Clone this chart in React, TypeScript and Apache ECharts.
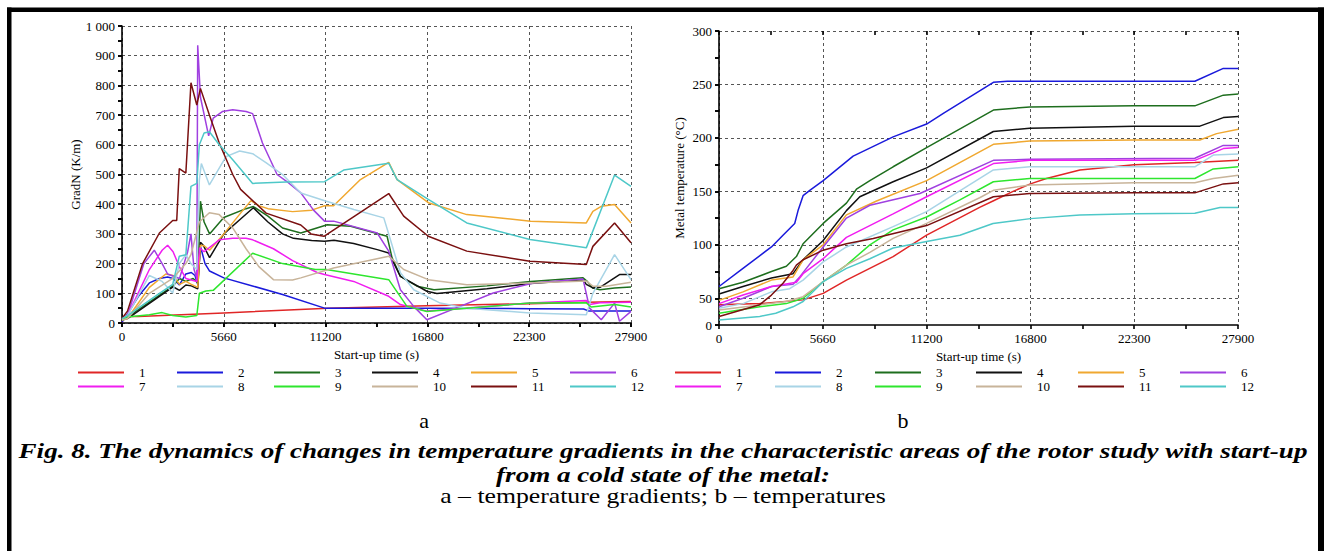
import React, { useEffect, useRef } from 'react';
import * as echarts from 'echarts';

const FONT = 'Liberation Serif';

const seriesNames = ['1', '2', '3', '4', '5', '6', '7', '8', '9', '10', '11', '12'];
const seriesColors = ['#e02626', '#1a1adb', '#1e6e1e', '#111111', '#f0a830', '#a040e0', '#f01ef0', '#a8d4e6', '#2ee62e', '#c8b49a', '#7a1010', '#4ec8c8'];

const timeTickLabels = ['0', '5660', '11200', '16800', '22300', '27900'];

// a – temperature gradients, K/m  [time s, value]
const grad1: [number, number][] = [[0, 3], [150, 22], [900, 22], [5580, 34], [11300, 50], [16700, 58], [22400, 65], [25450, 70], [27900, 72]];
const grad2: [number, number][] = [[0, 3], [300, 30], [900, 90], [1500, 135], [2050, 150], [2500, 155], [2800, 150], [3150, 128], [3500, 165], [3800, 170], [4000, 160], [4150, 130], [4300, 258], [4550, 200], [4800, 175], [5580, 152], [7200, 124], [8800, 96], [11100, 50], [16800, 50], [22400, 48], [25300, 47], [25600, 40], [27900, 40]];
const grad3: [number, number][] = [[0, 15], [300, 20], [2800, 125], [3150, 150], [3500, 140], [3900, 150], [4150, 135], [4300, 410], [4500, 340], [4800, 300], [5580, 355], [6800, 385], [7200, 392], [8000, 360], [8800, 320], [9800, 303], [11250, 331], [12530, 326], [14530, 292], [14800, 220], [15260, 157], [16170, 124], [17100, 112], [20000, 125], [22400, 140], [25270, 152], [25500, 140], [25800, 118], [26200, 112], [27000, 118], [27900, 121]];
const grad4: [number, number][] = [[0, 10], [300, 15], [2800, 122], [3150, 110], [3500, 128], [3800, 125], [4150, 115], [4300, 272], [4450, 262], [4800, 220], [5580, 300], [6500, 350], [7200, 388], [8000, 340], [8800, 300], [9400, 285], [10400, 278], [11100, 275], [11620, 279], [12700, 268], [13990, 247], [14620, 236], [15260, 157], [16710, 107], [17260, 99], [20000, 115], [22400, 133], [25270, 146], [25450, 130], [25810, 118], [26200, 120], [27270, 163], [27900, 163]];
const grad5: [number, number][] = [[0, 10], [300, 15], [1500, 120], [2400, 165], [2800, 160], [3150, 130], [3500, 140], [3800, 130], [4150, 120], [4300, 262], [4500, 260], [4800, 245], [5580, 300], [6500, 370], [7070, 412], [7500, 395], [8000, 385], [9350, 375], [10400, 380], [11100, 395], [11600, 395], [13070, 483], [14620, 541], [15080, 483], [16790, 405], [18900, 365], [22400, 343], [25450, 337], [25810, 376], [26270, 393], [27000, 399], [27900, 337]];
const grad6: [number, number][] = [[0, 15], [300, 25], [1200, 200], [1770, 245], [2200, 200], [2500, 165], [3150, 150], [3600, 240], [3780, 300], [3950, 180], [4100, 150], [4150, 935], [4300, 760], [4750, 630], [5000, 690], [5500, 712], [6070, 718], [6800, 712], [7160, 705], [7700, 606], [8500, 500], [9000, 478], [9800, 438], [10500, 380], [11100, 343], [11600, 343], [13990, 303], [14620, 242], [15260, 112], [15990, 56], [16710, 11], [18530, 56], [20350, 101], [22540, 135], [25270, 148], [25630, 50], [26270, 11], [27000, 67], [27270, 6], [27900, 39]];
const grad7: [number, number][] = [[0, 15], [300, 25], [1500, 180], [2200, 245], [2500, 262], [2800, 240], [3140, 190], [3500, 150], [4100, 140], [4250, 253], [4500, 240], [5330, 280], [6070, 285], [6800, 285], [7160, 280], [8300, 250], [9350, 210], [10700, 170], [11100, 163], [12700, 140], [14620, 90], [15260, 62], [16710, 40], [22360, 67], [25450, 76], [25630, 62], [26200, 68], [27900, 70]];
const grad8: [number, number][] = [[0, 15], [300, 25], [1500, 160], [2200, 140], [2780, 101], [3140, 200], [3500, 230], [3780, 200], [4100, 180], [4240, 482], [4350, 537], [4790, 465], [5700, 560], [6450, 579], [7160, 570], [7890, 540], [8800, 500], [9800, 438], [11200, 410], [12710, 382], [14350, 354], [14710, 281], [15260, 169], [15990, 112], [17440, 67], [18900, 50], [22360, 34], [25450, 28], [25810, 100], [27000, 230], [27900, 146]];
const grad9: [number, number][] = [[0, 10], [300, 20], [1500, 28], [2200, 35], [2780, 25], [3500, 20], [4100, 25], [4240, 100], [4600, 108], [5000, 110], [7160, 235], [8800, 200], [10600, 180], [11200, 180], [14620, 146], [15620, 56], [16710, 39], [22360, 67], [25450, 68], [25720, 54], [27000, 62], [27900, 54]];
const grad10: [number, number][] = [[0, 10], [300, 15], [1500, 100], [2780, 150], [3500, 200], [3780, 230], [4240, 340], [4790, 371], [5330, 365], [6070, 320], [6800, 250], [7500, 190], [8300, 146], [9350, 145], [9800, 152], [11600, 185], [14620, 225], [15440, 180], [16790, 146], [18900, 129], [22360, 135], [25450, 141], [25810, 124], [26540, 124], [27900, 137]];
const grad11: [number, number][] = [[0, 15], [300, 40], [1130, 200], [2050, 303], [2780, 345], [3000, 345], [3140, 520], [3500, 505], [3780, 809], [4100, 734], [4300, 790], [4790, 700], [5330, 606], [6070, 500], [6500, 450], [7900, 370], [9800, 330], [10360, 300], [11070, 292], [14620, 436], [15440, 360], [16790, 292], [18900, 242], [22360, 208], [25450, 197], [25810, 258], [27000, 337], [27900, 270]];
const grad12: [number, number][] = [[0, 15], [300, 25], [2050, 100], [2780, 130], [3140, 225], [3500, 230], [3780, 460], [4100, 470], [4240, 600], [4500, 640], [4790, 644], [5330, 600], [6070, 550], [7160, 470], [9000, 475], [11100, 476], [12150, 515], [14620, 538], [15080, 483], [16790, 416], [18900, 337], [22360, 281], [25450, 253], [27000, 498], [27900, 460]];

// b – metal temperatures, °C  [time s, value]
const temp1: [number, number][] = [[0, 44], [2190, 45], [4520, 48.5], [5600, 54.6], [6850, 67], [9360, 89], [11160, 109], [14010, 135], [14730, 141], [15810, 150], [16740, 157], [17600, 162], [19400, 170], [22320, 175], [25580, 177], [27920, 179]];
const temp2: [number, number][] = [[0, 61], [1290, 78], [2820, 98], [3440, 109], [4070, 120], [4250, 132], [4520, 146], [4880, 151], [5600, 160], [7210, 183], [9360, 201], [11160, 213], [12060, 223], [14750, 252], [15500, 253], [25580, 253], [27110, 265], [27920, 265]];
const temp3: [number, number][] = [[0, 59], [1290, 65], [2820, 75], [3620, 80], [4160, 89], [4520, 101], [5600, 120], [6850, 139], [7390, 152], [8110, 160], [9360, 173], [11160, 191], [14750, 226], [16700, 229], [22320, 230], [25580, 230], [27110, 240], [27920, 241]];
const temp4: [number, number][] = [[0, 54], [1290, 61], [2820, 69], [3980, 73], [4520, 86], [5600, 104], [6850, 132], [7570, 145], [9360, 159], [11160, 172], [14750, 206], [16700, 209], [22320, 211], [25850, 211], [27110, 219], [27920, 220]];
const temp5: [number, number][] = [[0, 48], [1290, 56], [2820, 67], [3980, 70], [4520, 86], [5600, 100], [6850, 128], [8470, 141], [11160, 160], [14750, 194], [16700, 197], [22320, 198], [25850, 198], [26750, 204], [27920, 208]];
const temp6: [number, number][] = [[0, 42], [1290, 50], [2820, 61], [3980, 63], [4340, 70], [5600, 98], [6850, 125], [8110, 137], [10800, 148], [14750, 179], [16700, 180], [25580, 181], [27110, 193], [27920, 193]];
const temp7: [number, number][] = [[0, 45], [1290, 53], [2820, 61], [4160, 65], [4520, 73], [5600, 87], [6850, 107], [9360, 129], [11160, 145], [14750, 176], [16700, 179], [25580, 179], [27110, 190], [27920, 191]];
const temp8: [number, number][] = [[0, 40.7], [1290, 45], [2820, 56], [3800, 59], [4520, 67], [5600, 84], [6850, 98], [9360, 117], [11160, 131], [14750, 170], [16700, 173], [25580, 173], [26570, 184], [27920, 185]];
const temp9: [number, number][] = [[0, 36], [2190, 42], [3620, 45], [4520, 50], [5600, 65.5], [6850, 81], [8110, 100], [9360, 114], [11160, 126], [12950, 142], [14750, 159], [16700, 162], [25580, 162], [26570, 171], [27920, 173]];
const temp10: [number, number][] = [[0, 39], [2190, 43.8], [3620, 47], [4520, 51.5], [5600, 65.5], [6850, 81], [8110, 93], [9360, 106], [11160, 120], [14010, 144], [14750, 151], [16700, 156], [22320, 158], [25580, 158], [26570, 162], [27920, 165]];
const temp11: [number, number][] = [[0, 33], [2190, 44], [2820, 53], [3440, 64], [3980, 76], [4160, 81], [4520, 86], [5600, 95], [6850, 101], [8290, 106], [11160, 118], [14750, 145], [16700, 148], [22320, 148.6], [25580, 148.6], [27110, 157], [27920, 158]];
const temp12: [number, number][] = [[0, 29.7], [2190, 33], [3050, 36], [3980, 42], [4520, 47], [5600, 65.5], [6850, 78], [8110, 87], [9360, 97], [11160, 103], [12950, 109], [14730, 120], [16740, 124.5], [19400, 128], [22320, 129], [25580, 129.6], [26930, 135], [27920, 135]];

const gradData = [grad1, grad2, grad3, grad4, grad5, grad6, grad7, grad8, grad9, grad10, grad11, grad12];
const tempData = [temp1, temp2, temp3, temp4, temp5, temp6, temp7, temp8, temp9, temp10, temp11, temp12];

const captionLine1 = 'Fig. 8. The dynamics of changes in temperature gradients in the characteristic areas of the rotor study with start-up';
const captionLine2 = 'from a cold state of the metal:';
const captionLine3 = 'a – temperature gradients; b – temperatures';

const timeFormatter = (v: number) => {
  const k = Math.round(v / 5580);
  if (Math.abs(v - k * 5580) < 1 && k >= 0 && k < timeTickLabels.length) return timeTickLabels[k];
  return '';
};

const labelStyle = { fontFamily: FONT, fontSize: 13, color: '#000' };
const tickStyle = { color: '#000', width: 1.6 };
const gridDash = { type: [3, 3] as any, width: 1 };

function makeXAxes(gridIndex: number) {
  return [
    {
      type: 'value', gridIndex, min: 0, max: 27900, interval: 2790,
      name: 'Start-up time (s)', nameLocation: 'middle', nameGap: 24,
      nameTextStyle: { ...labelStyle },
      axisLine: { show: true, onZero: false, lineStyle: { color: '#000', width: 1.6 } },
      axisTick: { show: true, inside: false, length: 4, lineStyle: tickStyle },
      axisLabel: { ...labelStyle, formatter: timeFormatter, margin: 7, showMinLabel: true, showMaxLabel: true, hideOverlap: false },
      splitLine: { show: true, lineStyle: { ...gridDash, color: ['#555', 'transparent'] } },
    },
    {
      type: 'value', gridIndex, min: 0, max: 27900, interval: 2790,
      axisLine: { show: false },
      axisTick: { show: true, inside: true, length: 4, lineStyle: tickStyle },
      axisLabel: { show: false },
      splitLine: { show: false },
    },
  ];
}

function makeYAxes(gridIndex: number, name: string, min: number, max: number, interval: number, formatter: (v: number) => string, splitColors: string[]) {
  return [
    {
      type: 'value', gridIndex, min, max, interval,
      name, nameLocation: 'middle', nameGap: 33, nameRotate: 90,
      nameTextStyle: { ...labelStyle },
      axisLine: { show: true, onZero: false, lineStyle: { color: '#000', width: 1.6 } },
      axisTick: { show: true, inside: false, length: 4, lineStyle: tickStyle },
      axisLabel: { ...labelStyle, formatter, margin: 7, showMinLabel: true, showMaxLabel: true, hideOverlap: false },
      splitLine: { show: true, lineStyle: { ...gridDash, color: splitColors } },
    },
    {
      type: 'value', gridIndex, min, max, interval,
      axisLine: { show: false },
      axisTick: { show: true, inside: true, length: 4, lineStyle: tickStyle },
      axisLabel: { show: false },
      splitLine: { show: false },
    },
  ];
}

const legendLeftX = [78, 177, 274, 372, 471, 570];
const legendRightX = [675, 775, 875, 976, 1078, 1180];
const legendRowTop = [366, 380];

function makeLegends(xs: number[]) {
  return seriesNames.map((n, i) => ({
    show: true,
    data: [n],
    left: xs[i % 6],
    top: legendRowTop[i < 6 ? 0 : 1],
    padding: 0,
    itemGap: 0,
    itemWidth: 46,
    itemHeight: 2,
    icon: 'rect',
    selectedMode: false,
    textStyle: { ...labelStyle, padding: [0, 0, 0, 10] },
  }));
}

export default function App() {
  const ref = useRef<HTMLDivElement>(null);
  useEffect(() => {
    if (!ref.current) return;
    const chart = echarts.init(ref.current, null, { renderer: 'svg' });
    const series: any[] = [];
    gradData.forEach((d, i) => {
      series.push({
        type: 'line', name: seriesNames[i], data: d, xAxisIndex: 0, yAxisIndex: 0,
        showSymbol: false, symbol: 'none', color: seriesColors[i],
        lineStyle: { width: 1.5, color: seriesColors[i] }, silent: true,
      });
    });
    tempData.forEach((d, i) => {
      series.push({
        type: 'line', name: seriesNames[i], data: d, xAxisIndex: 2, yAxisIndex: 2,
        showSymbol: false, symbol: 'none', color: seriesColors[i],
        lineStyle: { width: 1.5, color: seriesColors[i] }, silent: true,
      });
    });

    const textEl = (text: string, x: number, y: number, size: number, bold: boolean, italic: boolean, sx: number) => ({
      type: 'text', x, y, scaleX: sx, silent: true,
      style: {
        text, fill: '#000', fontFamily: FONT, fontSize: size,
        fontWeight: bold ? 'bold' : 'normal', fontStyle: italic ? 'italic' : 'normal',
        align: 'center', verticalAlign: 'middle', textAlign: 'center', textVerticalAlign: 'middle',
      },
    });

    chart.setOption({
      animation: false,
      backgroundColor: '#fff',
      textStyle: { fontFamily: FONT },
      grid: [
        { left: 122, top: 26, width: 509, height: 297 },
        { left: 719, top: 31, width: 519, height: 294 },
      ],
      xAxis: [...makeXAxes(0), ...makeXAxes(1)],
      yAxis: [
        ...makeYAxes(0, 'GradN (K/m)', 0, 1000, 50,
          (v: number) => (v % 100 === 0 ? (v === 1000 ? '1 000' : String(v)) : ''), ['#555', 'transparent']),
        ...makeYAxes(1, 'Metal temperature (°C)', 25, 300, 25,
          (v: number) => (v === 25 ? '0' : v % 50 === 0 ? String(v) : ''), ['transparent', '#555']),
      ],
      legend: [...makeLegends(legendLeftX), ...makeLegends(legendRightX)],
      series,
      graphic: [
        { type: 'rect', silent: true, shape: { x: 7, y: 7.5, width: 1317, height: 4.5 }, style: { fill: '#000' } },
        { type: 'rect', silent: true, shape: { x: 7, y: 7.5, width: 4.5, height: 544 }, style: { fill: '#000' } },
        { type: 'rect', silent: true, shape: { x: 1318, y: 7.5, width: 6, height: 544 }, style: { fill: '#000' } },
        textEl('a', 424, 421, 20, false, false, 1.1),
        textEl('b', 903, 421, 20, false, false, 1.1),
        textEl(captionLine1, 663, 451, 21, true, true, 1.29),
        textEl(captionLine2, 663, 475, 21, true, true, 1.29),
        textEl(captionLine3, 663, 496, 21, false, false, 1.225),
      ],
    });
    return () => chart.dispose();
  }, []);
  return <div ref={ref} style={{ position: 'absolute', left: 0, top: 0, width: 1324, height: 551 }} />;
}
